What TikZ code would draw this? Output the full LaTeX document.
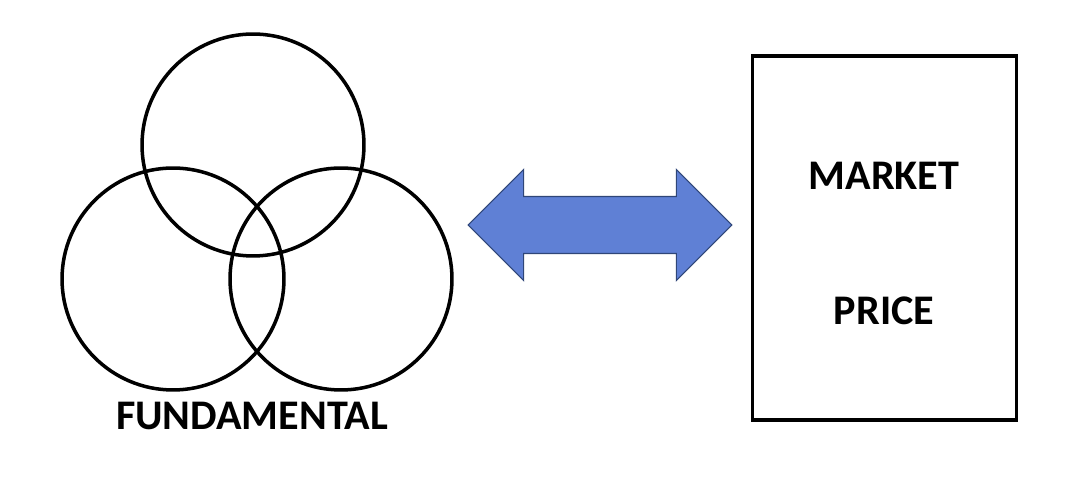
\documentclass[tikz,border=0pt]{standalone}
\usepackage{fontspec}
\setmainfont{Carlito}
\usetikzlibrary{shapes.arrows}
\definecolor{arrowfill}{RGB}{95,128,213}
\definecolor{arrowedge}{RGB}{47,70,120}
\tikzset{
  ring/.style={circle,draw,line width=2pt,minimum size=4.44cm,inner sep=0pt},
  label/.style={font=\fontsize{24}{28}\selectfont\bfseries,inner sep=0pt}
}

\begin{document}
\begin{tikzpicture}[x=0.02cm,y=-0.02cm]
    \useasboundingbox (0,0) rectangle (1075,489);
    % three circles
    \node[ring] (top) at (253,145) {};
    \node[ring] (left) at (173,279) {};
    \node[ring] (right) at (341,279) {};
    \node[label] (fund) at (252,416) {FUNDAMENTAL};
    % the box
    \node[draw,line width=2pt,minimum width=5.28cm,minimum height=7.28cm,inner sep=0pt] (box) at (884.5,238) {};
    \node[label] (market) at (884,176) {MARKET};
    \node[label] (price) at (884,311) {PRICE};
    % double arrow
    \node[double arrow,fill=arrowfill,draw=arrowedge,line width=0.6pt,
          double arrow head extend=0.54cm,double arrow head indent=0pt,
          double arrow tip angle=90,minimum height=5.28cm,
          inner xsep=0pt,inner ysep=0.56cm,text height=0pt,text depth=0pt] (link) at (600,225) {};
\end{tikzpicture}
\end{document}
